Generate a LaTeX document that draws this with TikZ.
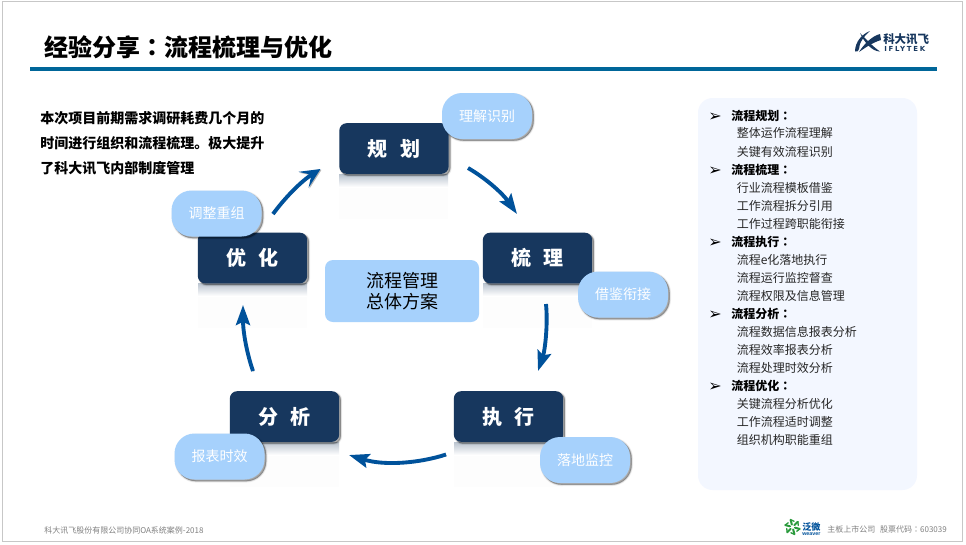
\documentclass[tikz,border=0pt]{standalone}
\usepackage{fontspec}
\setmainfont{Noto Sans CJK SC}
\newfontfamily\symf{DejaVu Sans}
\newfontfamily\wideb[WordSpace=2.7]{Noto Sans CJK SC}
\newfontfamily\tcf{Noto Sans CJK TC}
\newfontfamily\latinb{Liberation Sans}
\newfontfamily\logof[LetterSpace=25]{DejaVu Sans}
\newcommand\ccolon{{\tcf ：}}
\usetikzlibrary{shadows,arrows.meta,calc,fadings}
\definecolor{navy}{HTML}{17375E}
\definecolor{sky}{HTML}{A6D1FC}
\definecolor{flow}{HTML}{00529B}
\definecolor{rulec}{HTML}{006699}
\definecolor{panel}{HTML}{F3F7FF}
\definecolor{foot}{HTML}{808080}
\definecolor{leaf}{HTML}{2A9A3C}
\tikzset{
  softshadow/.style={
    drop shadow={shadow xshift=1.2pt,shadow yshift=-1.2pt,fill=black,draw=black,line width=2.2pt,opacity=.06},
    drop shadow={shadow xshift=1.2pt,shadow yshift=-1.2pt,fill=black,draw=black,line width=1.2pt,opacity=.1},
    drop shadow={shadow xshift=1.2pt,shadow yshift=-1.2pt,fill=black,draw=black,line width=.3pt,opacity=.18}},
  stage/.style={rectangle,rounded corners=5.5pt,fill=navy,softshadow,text=white,inner sep=0pt,
    minimum width=82pt,minimum height=38pt,
    font=\wideb\fontsize{15}{15}\selectfont\bfseries,text height=13.2pt,text depth=1.8pt},
  pill/.style={rectangle,rounded corners=15pt,fill=sky,softshadow,text=white,inner sep=0pt,
    minimum width=67.5pt,minimum height=34.5pt,
    font=\fontsize{10.5}{10.5}\selectfont,text height=9.24pt,text depth=1.26pt},
  core/.style={rectangle,rounded corners=6pt,fill=sky,inner sep=0pt,text=black,
    minimum width=115.5pt,minimum height=46.5pt,align=center,
    font=\fontsize{13.5}{15.75}\selectfont},
  arrowbase/.style={draw=flow,line width=2.9pt,
    preaction={draw=black!28,transform canvas={shift={(0.7pt,-0.7pt)}}}},
  arrowline/.style={arrowbase,-{Stealth[length=15pt,width=10.5pt,inset=2.5pt]}},
  arrowopen/.style={arrowbase,-{Stealth[length=15pt,width=14pt,inset=7pt]}},
  headitem/.style={anchor=base west,font=\fontsize{9}{9}\selectfont\bfseries,text=black,inner sep=0pt},
  subitem/.style={anchor=base west,font=\fontsize{9}{9}\selectfont,text=black!85,inner sep=0pt},
  bulletmark/.style={anchor=base west,font=\symf\fontsize{12}{12}\selectfont,text=black,inner sep=0pt},
  intro/.style={anchor=base west,font=\fontsize{10.5}{10.5}\selectfont\bfseries,text=black,inner sep=0pt},
  foottext/.style={anchor=base west,font=\wideb\fontsize{6}{6}\selectfont,text=foot,inner sep=0pt},
  mirror/.style={top color=#1,bottom color=white,draw=none}
}
\begin{document}
\begin{tikzpicture}[x=0.75pt,y=-0.75pt]
\useasboundingbox (0,0) rectangle (966,544);
% slide
\fill[white] (0,0) rectangle (966,544);
\draw[black!22,line width=1.4pt] (2.5,1.5) rectangle (962.5,541.5);
% title
\node[anchor=base west,inner sep=0pt,font=\fontsize{18}{18}\selectfont\bfseries,text=black] (title) at (44,56) {经验分享\ccolon 流程梳理与优化};
\coordinate (ruleL) at (30,69);
\coordinate (ruleR) at (937,69);
\draw[rulec,line width=2.3pt] (ruleL) -- (ruleR);
% iflytek logo
\fill[navy] (855,51.5) .. controls (855,42) and (862,34) .. (870,31) .. controls (864,36) and (859,43) .. (859,49) .. controls (859,51) and (857,52) .. (855,51.5) -- cycle;
\fill[navy] (860,33) .. controls (865,38) and (872,46) .. (880,51.5) .. controls (872,51.5) and (864,42) .. (860,33) -- cycle;
\fill[navy] (880,34) .. controls (872,36) and (864,44) .. (859,52) .. controls (866,47) and (874,42) .. (881,40) -- cycle;
\node[anchor=base west,inner sep=0pt,font=\fontsize{8.6}{9}\selectfont\bfseries,text=navy] (brandcn) at (883,43.5) {科大讯飞};
\node[anchor=base west,inner sep=0pt,font=\logof\fontsize{5.2}{6}\selectfont\bfseries,text=navy] (branden) at (884,51) {IFLYTEK};
% intro
\node[intro] (intro1) at (40,123) {本次项目前期需求调研耗费几个月的};
\node[intro] (intro2) at (40,148) {时间进行组织和流程梳理。极大提升};
\node[intro] (intro3) at (40,173) {了科大讯飞内部制度管理};
% reflections
\foreach \xa/\ya in {339/174,483/283,198/283,230/442,454/442}{
  \fill[black!0.6] (\xa,\ya) rectangle ++(109,45);
  \shade[mirror=navy!30] (\xa,\ya) rectangle ++(109,13);
}
% panel
\node[rectangle,rounded corners=11pt,fill=panel,minimum width=164.25pt,minimum height=294pt,inner sep=0pt] (panelbox) at (807.5,294) {};
% stages
\node[stage] (plan) at (394,148.5) {规 划};
\node[stage] (comb) at (537.5,258) {梳 理};
\node[stage] (run) at (508.5,416.5) {执 行};
\node[stage] (ana) at (284.5,416.5) {分 析};
\node[stage] (opt) at (252.5,258) {优 化};
% pills
\node[pill] (p1) at (487,116) {理解识别};
\node[pill] (p2) at (623,294.5) {借鉴衔接};
\node[pill] (p3) at (585,460) {落地监控};
\node[pill] (p4) at (219.5,456.5) {报表时效};
\node[pill] (p5) at (216.5,213.5) {调整重组};
% centre
\node[core] (centre) at (402,291) {流程管理\\总体方案};
% arrows
\coordinate (a1) at (273,214);
\coordinate (a2) at (320.5,169);
\coordinate (b1) at (468,168);
\coordinate (b2) at (517,214);
\coordinate (c1) at (546,304);
\coordinate (c2) at (538,371);
\coordinate (d1) at (446,454.5);
\coordinate (d2) at (349,455);
\coordinate (e1) at (253,371);
\coordinate (e2) at (243,305);
\draw[arrowopen] (a1) .. controls (284,199) and (300,182) .. (a2);
\draw[arrowline] (b1) .. controls (487,179) and (503,194) .. (b2);
\draw[arrowline] (c1) .. controls (548,325) and (545,350) .. (c2);
\draw[arrowline] (d1) .. controls (420,463) and (385,466) .. (d2);
\draw[arrowline] (e1) .. controls (247,354) and (243,332) .. (e2);
% side list
\foreach \n/\ya in {1/121,2/175,3/247,4/319,5/391}
  \node[bulletmark] (bullet\n) at (708,\ya) {➢};
\node[headitem] (h1) at (731,120.5) {流程规划\ccolon};
\node[subitem] (s11) at (736.5,137.5) {整体运作流程理解};
\node[subitem] (s12) at (736.5,156) {关键有效流程识别};
\node[headitem] (h2) at (731,174.5) {流程梳理\ccolon};
\node[subitem] (s21) at (736.5,192.5) {行业流程模板借鉴};
\node[subitem] (s22) at (736.5,210.5) {工作流程拆分引用};
\node[subitem] (s23) at (736.5,228.5) {工作过程跨职能衔接};
\node[headitem] (h3) at (731,246.5) {流程执行\ccolon};
\node[subitem] (s31) at (736.5,264.5) {流程e化落地执行};
\node[subitem] (s32) at (736.5,282.5) {流程运行监控督查};
\node[subitem] (s33) at (736.5,300.5) {流程权限及信息管理};
\node[headitem] (h4) at (731,318.5) {流程分析\ccolon};
\node[subitem] (s41) at (736.5,336.5) {流程数据信息报表分析};
\node[subitem] (s42) at (736.5,354.5) {流程效率报表分析};
\node[subitem] (s43) at (736.5,372.5) {流程处理时效分析};
\node[headitem] (h5) at (731,390.5) {流程优化\ccolon};
\node[subitem] (s51) at (736.5,408.5) {关键流程分析优化};
\node[subitem] (s52) at (736.5,426.5) {工作流程适时调整};
\node[subitem] (s53) at (736.5,444.5) {组织机构职能重组};
% footer
\node[foottext] (foot1) at (44,533) {科大讯飞股份有限公司协同OA系统案例-2018};
\node[foottext] (foot2) at (827,532.5) {主板上市公司 股票代码\ccolon 603039};
% weaver logo
\foreach \a in {0,60,...,300}{
  \draw[leaf,line width=1.5pt,line cap=round] ($(792.5,527)+(\a+15:2.5)$) -- ($(792.5,527)+(\a+15:7.5)$);
  \draw[leaf,line width=1pt,line cap=round] ($(792.5,527)+(\a+15:7.5)$) -- ($(792.5,527)+(\a+45:6)$);
}
\node[anchor=base west,inner sep=0pt,font=\fontsize{6.8}{7}\selectfont\bfseries,text=flow] (wv) at (802,530.5) {泛微};
\node[anchor=base west,inner sep=0pt,font=\latinb\fontsize{4}{4}\selectfont\bfseries,text=flow] (wven) at (802,535.5) {weaver};
\end{tikzpicture}
\end{document}
